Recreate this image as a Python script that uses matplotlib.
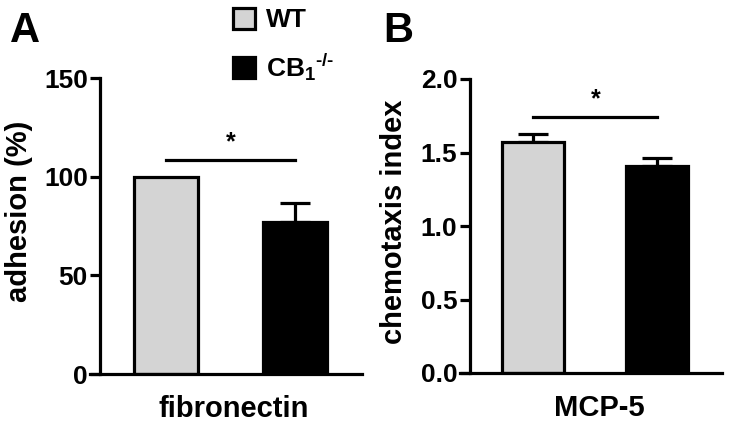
import matplotlib
matplotlib.use("Agg")
import matplotlib.pyplot as plt
from matplotlib.patches import Patch

plt.rcParams['font.family'] = ['Liberation Sans', 'DejaVu Sans']
plt.rcParams['font.weight'] = 'bold'
plt.rcParams['mathtext.fontset'] = 'custom'
plt.rcParams['mathtext.rm'] = 'Liberation Sans:bold'
plt.rcParams['mathtext.bf'] = 'Liberation Sans:bold'
plt.rcParams['mathtext.default'] = 'bf'

groups = ['WT', r'CB$_1$$^{\text{-/-}}$']
colors = ['#d4d4d4', '#000000']

adh_vals = [100, 77]
adh_err = [0, 9.5]
chem_vals = [1.57, 1.41]
chem_err = [0.055, 0.05]

panels = [
    dict(letter='A', xlabel='fibronectin', ylabel='adhesion (%)', vals=adh_vals, err=adh_err,
         ylim=150, yticks=[0, 50, 100, 150], ticklabels=['0', '50', '100', '150'], sig=108.5,
         ylab_x=-0.21, ylab_y=0.55, xlab_x=0.53,
         rect=[90/732, 1-374/422, (362-90)/732, (374-78)/422]),
    dict(letter='B', xlabel='MCP-5', ylabel='chemotaxis index', vals=chem_vals, err=chem_err,
         ylim=2.0, yticks=[0, 0.5, 1.0, 1.5, 2.0], ticklabels=['0.0', '0.5', '1.0', '1.5', '2.0'], sig=1.74,
         ylab_x=-0.198, ylab_y=0.515, xlab_x=0.53,
         rect=[460/732, 1-373/422, (722-460)/732, (373-79)/422]),
]

fig = plt.figure(figsize=(7.32, 4.22), dpi=100)
lw = 2.3
for p in panels:
    ax = fig.add_axes(p['rect'])
    x = [0, 1]
    ax.bar(x, p['vals'], width=0.5, color=colors, edgecolor='black', linewidth=lw, zorder=2)
    for xi, v, e in zip(x, p['vals'], p['err']):
        if e > 0:
            ax.errorbar(xi, v, yerr=[[0], [e]], fmt='none', ecolor='black', elinewidth=lw,
                        capsize=11, capthick=lw, zorder=1)
    ax.spines['top'].set_visible(False)
    ax.spines['right'].set_visible(False)
    ax.spines['left'].set_position(('data', -0.51))
    ax.spines['left'].set_linewidth(lw)
    ax.spines['bottom'].set_linewidth(lw)
    ax.set_xlim(-0.59, 1.52)
    ax.set_ylim(0, p['ylim'])
    ax.spines['left'].set_bounds(0, p['ylim'])
    ax.set_yticks(p['yticks'])
    ax.set_yticklabels(p['ticklabels'])
    ax.set_xticks([])
    ax.tick_params(axis='y', length=7, width=lw, direction='out', pad=2, labelsize=19)
    for t in ax.get_yticklabels():
        t.set_fontweight('bold')
    ax.set_xlabel(p['xlabel'], fontsize=21, fontweight='bold')
    ax.xaxis.set_label_coords(p['xlab_x'], -0.07)
    ax.set_ylabel(p['ylabel'], fontsize=21, fontweight='bold')
    ax.yaxis.set_label_coords(p['ylab_x'], p['ylab_y'])
    ax.plot([0.0, 1.0], [p['sig'], p['sig']], color='black', lw=lw, clip_on=False)
    ax.text(0.5, p['sig'] + p['ylim'] * 0.02, '*', ha='center', va='bottom', fontsize=18, fontweight='bold')

fig.text(10/732, 1-42/422, 'A', fontsize=30, fontweight='bold', ha='left', va='baseline')
fig.text(383/732, 1-42/422, 'B', fontsize=30, fontweight='bold', ha='left', va='baseline')

handles = [Patch(facecolor=c, edgecolor='black', linewidth=lw) for c in colors]
fig.legend(handles, groups, loc='upper left', bbox_to_anchor=(222/732, 1 + 3/422), frameon=False,
           prop=dict(size=19, weight='bold'), handlelength=0.85, handleheight=0.85,
           labelspacing=0.75, handletextpad=0.4, borderaxespad=0)

fig.savefig('out.png', dpi=100)
